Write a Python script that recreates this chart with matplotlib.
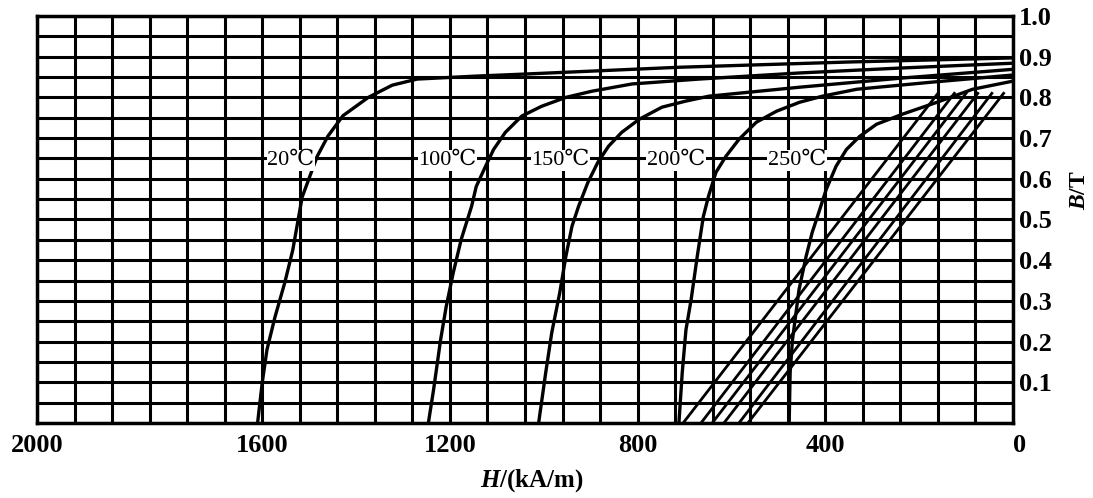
import matplotlib
matplotlib.use("Agg")
import matplotlib.pyplot as plt
from matplotlib.ticker import MultipleLocator
import numpy as np

plt.rcParams['font.family'] = ['Liberation Serif', 'DejaVu Serif', 'Noto Sans CJK SC']
plt.rcParams['mathtext.fontset'] = 'custom'
plt.rcParams['mathtext.it'] = 'Liberation Serif:italic:bold'
plt.rcParams['mathtext.rm'] = 'Liberation Serif:bold'

# demagnetization curves, H in kA/m, B in T
h20 = [1610, 1600, 1590, 1573, 1552, 1535, 1515, 1483, 1460, 1428, 1374, 1323, 1270, 1150, 1047, 712, 348, 0]
b20 = [0, 0.1, 0.18, 0.26, 0.345, 0.425, 0.555, 0.655, 0.705, 0.755, 0.80, 0.83, 0.845, 0.852, 0.857, 0.874, 0.887, 0.897]

h100 = [1246, 1235, 1220, 1208, 1193, 1176, 1154, 1144, 1124, 1107, 1082, 1047, 1005, 953, 898, 812, 669, 455, 242, 0]
b100 = [0, 0.081, 0.204, 0.286, 0.369, 0.451, 0.532, 0.581, 0.631, 0.672, 0.714, 0.754, 0.778, 0.80, 0.815, 0.833, 0.845, 0.86, 0.872, 0.884]

h150 = [1011, 996, 983, 966, 953, 940, 926, 906, 885, 862, 834, 797, 748, 697, 648, 455, 242, 0]
b150 = [0, 0.123, 0.222, 0.32, 0.409, 0.483, 0.532, 0.591, 0.64, 0.68, 0.714, 0.746, 0.776, 0.791, 0.803, 0.825, 0.847, 0.869]

h200 = [712, 705, 697, 686, 673, 660, 649, 633, 612, 584, 547, 504, 455, 406, 333, 177, 0]
b200 = [0, 0.123, 0.229, 0.303, 0.409, 0.507, 0.557, 0.616, 0.655, 0.697, 0.739, 0.766, 0.788, 0.803, 0.82, 0.837, 0.855]

h250 = [477, 475, 470, 456, 441, 428, 414, 398, 377, 355, 327, 291, 235, 162, 86, 0]
b250 = [0, 0.123, 0.204, 0.328, 0.409, 0.468, 0.517, 0.574, 0.631, 0.672, 0.704, 0.734, 0.759, 0.788, 0.82, 0.84]

temps = ['20℃', '100℃', '150℃', '200℃', '250℃']
label_h = [1539, 1205, 964, 718, 460]
label_b = [0.645, 0.645, 0.645, 0.645, 0.645]

# straight recoil lines: start at B=0, end near the knee
recoil_h0 = [703, 665, 641, 616, 584, 565]
recoil_h1 = [160, 125, 100, 75, 45, 20]
recoil_b1 = [0.81, 0.81, 0.81, 0.81, 0.81, 0.81]

x_ticks = [2080, 1600, 1200, 800, 400, 0]
x_labels = ['2000', '1600', '1200', '800', '400', '0']
y_ticks = [0.1, 0.2, 0.3, 0.4, 0.5, 0.6, 0.7, 0.8, 0.9, 1.0]

fig = plt.figure(figsize=(10.93, 4.98), dpi=100)
ax = fig.add_axes([0.0339, 0.1506, 0.8929, 0.8173])

for h, b in [(h20, b20), (h100, b100), (h150, b150), (h200, b200), (h250, b250)]:
    ax.plot(h, b, color='black', lw=2.4, zorder=3, solid_joinstyle='round')

for h0, h1, b1 in zip(recoil_h0, recoil_h1, recoil_b1):
    ax.plot([h0, h1], [0, b1], color='black', lw=2.0, zorder=3)

for t, h, b in zip(temps, label_h, label_b):
    ax.text(h, b, t, fontsize=16, ha='center', va='center', zorder=5,
            bbox=dict(facecolor='white', edgecolor='none', pad=0.5))

ax.set_xlim(2080, 0)
ax.set_ylim(0, 1.0)
ax.xaxis.set_minor_locator(MultipleLocator(80))
ax.yaxis.set_minor_locator(MultipleLocator(0.05))
ax.set_xticks(x_ticks)
ax.set_xticklabels(x_labels)
ax.set_yticks(y_ticks)
ax.set_yticklabels(['%.1f' % v for v in y_ticks])
ax.yaxis.tick_right()
ax.grid(which='both', color='black', lw=2.2, zorder=1)
ax.set_axisbelow(True)
ax.tick_params(which='both', length=0)
ax.tick_params(axis='x', pad=8, labelsize=19)
ax.tick_params(axis='y', pad=4, labelsize=19)
for lab in ax.get_xticklabels() + ax.get_yticklabels():
    lab.set_fontweight('bold')
ax.get_xticklabels()[-1].set_horizontalalignment('left')

for s in ax.spines.values():
    s.set_linewidth(2.5)

ax.set_xlabel(r'$H$/(kA/m)', fontsize=18, fontweight='bold', va='center')
ax.xaxis.set_label_coords(0.507, -0.142)
ax.yaxis.set_label_position('right')
ax.set_ylabel(r'$B$/T', fontsize=17, fontweight='bold', rotation=90, va='center', ha='center')
ax.yaxis.set_label_coords(1.068, 0.572)

fig.savefig('out.png', dpi=100)
